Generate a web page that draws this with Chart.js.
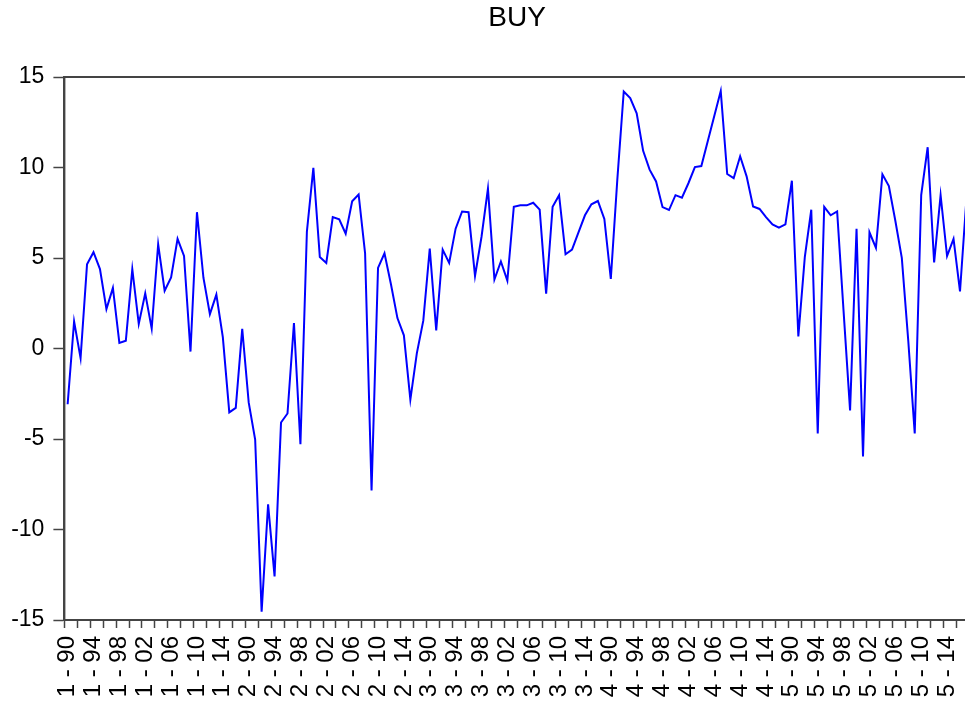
<!DOCTYPE html>
<html>
<head>
<meta charset="utf-8">
<script src="https://cdn.jsdelivr.net/npm/chart.js@4/dist/chart.umd.min.js"></script>
<style>
html,body{margin:0;padding:0;background:#fff;overflow:hidden;width:965px;height:714px;}
#wrap{position:absolute;left:0;top:0;width:972px;height:714px;}
</style>
</head>
<body>
<div id="wrap"><canvas id="c" width="972" height="714"></canvas></div>
<script>
const sections = [1, 2, 3, 4, 5];
const years = ['90','91','92','93','94','95','96','97','98','99','00','01','02','03','04','05','06','07','08','09','10','11','12','13','14','15','16','17'];
const labelEvery = 4;

const buy1 = [-3.08, 1.5, -0.53, 4.65, 5.32, 4.39, 2.18, 3.35, 0.31, 0.43, 4.39, 1.36, 3.05, 1.1, 5.76, 3.19, 3.93, 6.06, 5.11, -0.17, 7.53, 3.91, 1.9, 2.98, 0.63, -3.53, -3.28, 1.08];
const buy2 = [-2.98, -5.03, -14.54, -8.61, -12.59, -4.09, -3.59, 1.4, -5.29, 6.46, 9.98, 5.05, 4.73, 7.26, 7.14, 6.34, 8.13, 8.51, 5.26, -7.85, 4.45, 5.26, 3.55, 1.68, 0.73, -2.82, -0.27, 1.54];
const buy3 = [5.52, 1.0, 5.46, 4.73, 6.62, 7.57, 7.53, 4.01, 6.16, 8.83, 3.81, 4.81, 3.75, 7.83, 7.91, 7.91, 8.05, 7.67, 3.03, 7.83, 8.47, 5.21, 5.46, 6.42, 7.36, 7.97, 8.15, 7.16];
const buy4 = [3.85, 9.3, 14.2, 13.83, 12.99, 10.92, 9.88, 9.23, 7.81, 7.65, 8.47, 8.33, 9.13, 10.02, 10.08, 11.46, 12.85, 14.22, 9.64, 9.41, 10.62, 9.51, 7.85, 7.71, 7.26, 6.86, 6.68, 6.86];
const buy5 = [9.27, 0.67, 5.05, 7.67, -4.69, 7.83, 7.36, 7.57, 2.04, -3.42, 6.62, -5.96, 6.42, 5.56, 9.62, 8.97, 7.06, 5.01, 0.43, -4.69, 8.47, 11.12, 4.75, 8.47, 5.11, 6.06, 3.15, 8.3];

const labels = [];
sections.forEach(s => years.forEach(y => labels.push(s + ' - ' + y)));
const values = [].concat(buy1, buy2, buy3, buy4, buy5);

const FONT = "'Liberation Sans', Arial, Helvetica, sans-serif";
const AXIS = '#444444';

const framePlugin = {
  id: 'frame',
  afterDraw(chart) {
    const a = chart.chartArea, ctx = chart.ctx;
    ctx.save();
    ctx.strokeStyle = AXIS;
    ctx.lineWidth = 2;
    ctx.strokeRect(a.left, a.top, a.right - a.left, a.bottom - a.top);
    ctx.restore();
  }
};

new Chart(document.getElementById('c'), {
  type: 'line',
  data: {
    labels: labels,
    datasets: [{
      label: 'BUY',
      data: values,
      borderColor: '#0000FF',
      backgroundColor: '#0000FF',
      borderWidth: 2,
      pointRadius: 0,
      tension: 0,
      fill: false
    }]
  },
  options: {
    responsive: false,
    animation: false,
    devicePixelRatio: 1,
    layout: { padding: { left: 0, right: 2.3, top: 0, bottom: 0 } },
    plugins: {
      legend: { display: false },
      tooltip: { enabled: false },
      title: {
        display: true,
        fullSize: false,
        text: 'BUY',
        color: '#000',
        font: { family: FONT, size: 28, weight: 'normal', lineHeight: 1.2 },
        padding: { top: 1, bottom: 42.4 }
      }
    },
    scales: {
      x: {
        type: 'category',
        offset: true,
        afterFit(scale) {
          scale.height = 94;
          scale.paddingLeft = 0;
          scale.paddingRight = 0;
        },
        grid: {
          offset: true,
          drawOnChartArea: false,
          drawTicks: true,
          tickLength: 8,
          tickWidth: 1.5,
          tickColor: (ctx) => (ctx.index % 2 === 0 ? AXIS : 'rgba(0,0,0,0)')
        },
        border: { display: true, color: AXIS, width: 2 },
        ticks: {
          autoSkip: false,
          maxRotation: 90,
          minRotation: 90,
          padding: 8,
          color: '#000',
          font: { family: FONT, size: 24 },
          callback: function (v, i) { return i % labelEvery === 0 ? this.getLabelForValue(v) : ''; }
        }
      },
      y: {
        min: -15,
        max: 15,
        afterFit(scale) { scale.width = 64.4; },
        grid: {
          drawOnChartArea: false,
          drawTicks: true,
          tickLength: 11,
          tickWidth: 1.5,
          tickColor: AXIS
        },
        border: { display: true, color: AXIS, width: 2 },
        ticks: {
          stepSize: 5,
          padding: 9,
          color: '#000',
          font: { family: FONT, size: 23 }
        }
      }
    }
  },
  plugins: [framePlugin]
});
</script>
</body>
</html>
